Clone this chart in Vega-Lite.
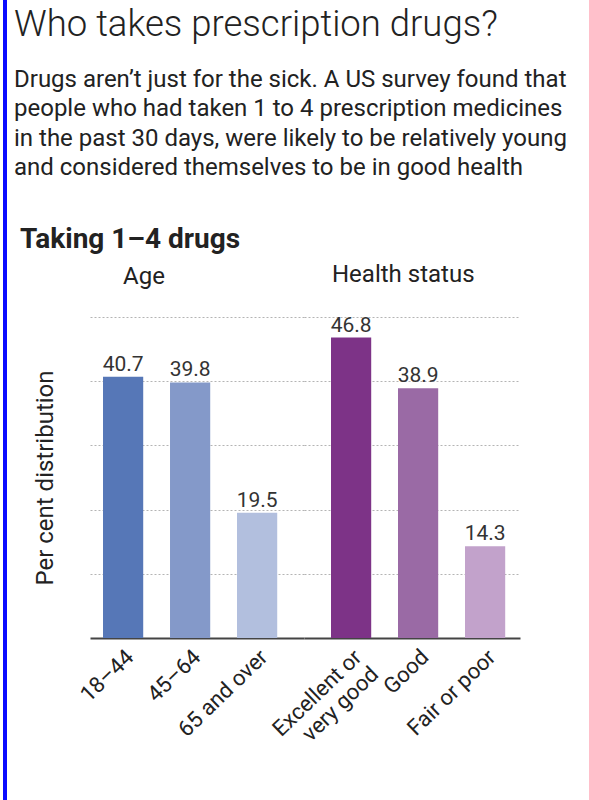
{
  "$schema": "https://vega.github.io/schema/vega-lite/v6.json",
  "padding": {"left": 3, "top": 0, "right": 0, "bottom": 0},
  "spacing": 7,
  "config": {
    "font": "Roboto",
    "view": {"stroke": null},
    "axis": {"labelFont": "Roboto", "titleFont": "Roboto"}
  },
  "datasets": {
    "drugs": [
      {"group": "Age", "category": "18–44", "value": 40.7},
      {"group": "Age", "category": "45–64", "value": 39.8},
      {"group": "Age", "category": "65 and over", "value": 19.5},
      {"group": "Health status", "category": "Excellent or very good", "value": 46.8},
      {"group": "Health status", "category": "Good", "value": 38.9},
      {"group": "Health status", "category": "Fair or poor", "value": 14.3}
    ]
  },
  "hconcat": [
    {
      "data": {"values": []},
      "width": 4,
      "height": 800,
      "view": {"fill": "#0a0aff", "stroke": null},
      "mark": "rect",
      "encoding": {}
    },
    {
      "spacing": 45,
      "vconcat": [
        {
          "data": {"values": []},
          "width": 430,
          "height": 1,
          "mark": "rect",
          "encoding": {},
          "title": {
            "text": "Who takes prescription drugs?",
            "subtitle": [
              "Drugs aren’t just for the sick. A US survey found that",
              "people who had taken 1 to 4 prescription medicines",
              "in the past 30 days, were likely to be relatively young",
              "and considered themselves to be in good health"
            ],
            "orient": "bottom",
            "anchor": "start",
            "frame": "group",
            "font": "Roboto",
            "fontSize": 36.5,
            "fontWeight": 300,
            "color": "#222222",
            "subtitleFont": "Roboto",
            "subtitleFontSize": 24,
            "subtitleColor": "#222222",
            "subtitleLineHeight": 29.5,
            "subtitlePadding": 24,
            "offset": 6,
            "dx": -76
          }
        },
        {
          "title": {
            "text": "Taking 1–4 drugs",
            "anchor": "start",
            "frame": "group",
            "font": "Roboto",
            "fontSize": 28,
            "fontWeight": "bold",
            "color": "#222222",
            "offset": 9,
            "dx": -70
          },
          "bounds": "flush",
          "spacing": 0,
          "hconcat": [
            {
              "data": {"name": "drugs"},
              "width": 214,
              "height": 321,
              "title": {"text": "Age", "anchor": "start", "frame": "group", "dx": 33, "fontSize": 24, "fontWeight": "normal", "color": "#222222", "offset": 28},
              "transform": [{"filter": "datum.group === 'Age'"}],
              "encoding": {
                "x": {
                  "field": "category", "type": "nominal", "sort": null,
                  "scale": {"paddingInner": 0.4, "paddingOuter": 0.297, "align": 0.327},
                  "axis": {"title": null, "labelAngle": -44, "labelFontSize": 22, "labelColor": "#222222", "labelPadding": 8, "ticks": false, "domainColor": "#444444", "domainWidth": 2, "grid": false}
                },
                "y": {
                  "field": "value", "type": "quantitative",
                  "scale": {"domain": [0, 50]},
                  "axis": {"title": "Per cent distribution", "titleFontSize": 24, "titleFontWeight": "normal", "titleColor": "#222222", "titlePadding": 33, "labels": false, "ticks": false, "domain": false, "values": [10, 20, 30, 40, 50], "grid": true, "gridColor": "#b4b4b4", "gridDash": [2, 2], "gridWidth": 1}
                }
              },
              "layer": [
                {
                  "mark": {"type": "bar"},
                  "encoding": {
                    "color": {
                      "field": "category", "type": "nominal", "legend": null,
                      "scale": {"domain": ["18–44", "45–64", "65 and over", "Excellent or very good", "Good", "Fair or poor"], "range": ["#5677b7", "#8499c9", "#b2bfde", "#7d3387", "#9a6aa5", "#c2a2cb"]}
                    }
                  }
                },
                {
                  "mark": {"type": "text", "baseline": "bottom", "dy": -2, "fontSize": 21, "color": "#333333"},
                  "encoding": {"text": {"field": "value", "type": "quantitative", "format": ".1f"}}
                }
              ]
            },
            {
              "data": {"name": "drugs"},
              "width": 216,
              "height": 321,
              "title": {"text": "Health status", "anchor": "start", "frame": "group", "dx": 28, "fontSize": 24, "fontWeight": "normal", "color": "#222222", "offset": 28},
              "transform": [{"filter": "datum.group === 'Health status'"}],
              "encoding": {
                "x": {
                  "field": "category", "type": "nominal", "sort": null,
                  "scale": {"paddingInner": 0.4, "paddingOuter": 0.312, "align": 0.646},
                  "axis": {"title": null, "labelAngle": -44, "labelFontSize": 22, "labelColor": "#222222", "labelPadding": 8, "ticks": false, "domainColor": "#444444", "domainWidth": 2, "grid": false,
                    "labelExpr": "datum.value === 'Excellent or very good' ? ['Excellent or', 'very good'] : datum.label"}
                },
                "y": {
                  "field": "value", "type": "quantitative",
                  "scale": {"domain": [0, 50]},
                  "axis": {"title": null, "labels": false, "ticks": false, "domain": false, "values": [10, 20, 30, 40, 50], "grid": true, "gridColor": "#b4b4b4", "gridDash": [2, 2], "gridWidth": 1}
                }
              },
              "layer": [
                {
                  "mark": {"type": "bar"},
                  "encoding": {
                    "color": {
                      "field": "category", "type": "nominal", "legend": null,
                      "scale": {"domain": ["18–44", "45–64", "65 and over", "Excellent or very good", "Good", "Fair or poor"], "range": ["#5677b7", "#8499c9", "#b2bfde", "#7d3387", "#9a6aa5", "#c2a2cb"]}
                    }
                  }
                },
                {
                  "mark": {"type": "text", "baseline": "bottom", "dy": -2, "fontSize": 21, "color": "#333333"},
                  "encoding": {"text": {"field": "value", "type": "quantitative", "format": ".1f"}}
                }
              ]
            }
          ]
        }
      ]
    }
  ]
}
